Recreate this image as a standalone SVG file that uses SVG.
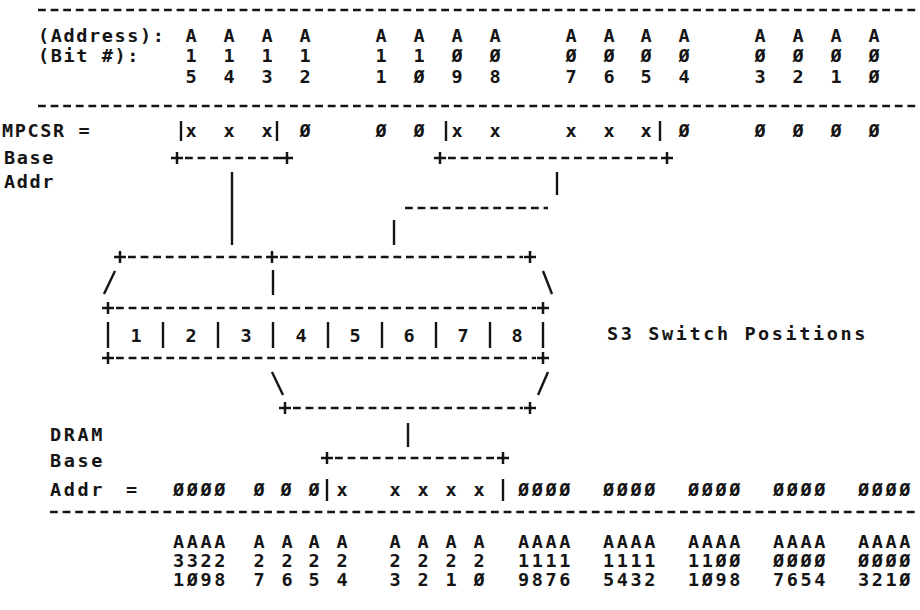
<svg xmlns="http://www.w3.org/2000/svg" xmlns:xlink="http://www.w3.org/1999/xlink" width="920" height="610" viewBox="0 0 920 610">
  <defs>
    <style>
      text { font-family: "DejaVu Sans Mono", "Liberation Mono", monospace; font-weight: bold; font-size: 18.5px; fill: #141414; }
      .lbl { letter-spacing: 1.6px; }
      .wide { letter-spacing: 2.6px; }
      .sw { letter-spacing: 2.6px; }
      .col { text-anchor: middle; }
      .rule, .dash { stroke: #141414; stroke-width: 2.5; fill: none; stroke-dasharray: 7.8 4.8; }
      .bar { stroke: #141414; stroke-width: 2.4; fill: none; }
      .plus { stroke: #141414; stroke-width: 2.5; fill: none; }
    </style>
    <path id="plus" d="M-6 0H6M0 -6V6"/>
  </defs>
  <rect width="920" height="610" fill="#ffffff"/>

  <!-- separator rules -->
  <g id="rules">
    <line class="rule" x1="38" y1="10" x2="918" y2="10"/>
    <line class="rule" x1="38" y1="106" x2="918" y2="106"/>
    <line class="rule" x1="50" y1="512" x2="918" y2="512"/>
  </g>

  <!-- address bit header -->
  <g id="address-header">
    <text class="lbl" x="38" y="42">(Address):</text>
    <text class="lbl" x="38" y="62">(Bit #):</text>
    <text class="col" y="42"><tspan x="191">A</tspan><tspan x="229">A</tspan><tspan x="267">A</tspan><tspan x="305">A</tspan><tspan x="381">A</tspan><tspan x="419">A</tspan><tspan x="457">A</tspan><tspan x="495">A</tspan><tspan x="571">A</tspan><tspan x="609">A</tspan><tspan x="646">A</tspan><tspan x="684">A</tspan><tspan x="760">A</tspan><tspan x="798">A</tspan><tspan x="836">A</tspan><tspan x="874">A</tspan></text>
    <text class="col" y="62"><tspan x="191">1</tspan><tspan x="229">1</tspan><tspan x="267">1</tspan><tspan x="305">1</tspan><tspan x="381">1</tspan><tspan x="419">1</tspan><tspan x="457">Ø</tspan><tspan x="495">Ø</tspan><tspan x="571">Ø</tspan><tspan x="609">Ø</tspan><tspan x="646">Ø</tspan><tspan x="684">Ø</tspan><tspan x="760">Ø</tspan><tspan x="798">Ø</tspan><tspan x="836">Ø</tspan><tspan x="874">Ø</tspan></text>
    <text class="col" y="83"><tspan x="191">5</tspan><tspan x="229">4</tspan><tspan x="267">3</tspan><tspan x="305">2</tspan><tspan x="381">1</tspan><tspan x="419">Ø</tspan><tspan x="457">9</tspan><tspan x="495">8</tspan><tspan x="571">7</tspan><tspan x="609">6</tspan><tspan x="646">5</tspan><tspan x="684">4</tspan><tspan x="760">3</tspan><tspan x="798">2</tspan><tspan x="836">1</tspan><tspan x="874">Ø</tspan></text>
  </g>

  <!-- MPCSR base address register -->
  <g id="mpcsr">
    <text class="lbl" x="2" y="137">MPCSR =</text>
    <text class="lbl" x="4" y="164">Base</text>
    <text class="lbl" x="4" y="188">Addr</text>
    <text class="col" y="137"><tspan x="191">x</tspan><tspan x="229">x</tspan><tspan x="267">x</tspan><tspan x="305">Ø</tspan><tspan x="381">Ø</tspan><tspan x="419">Ø</tspan><tspan x="457">x</tspan><tspan x="495">x</tspan><tspan x="571">x</tspan><tspan x="609">x</tspan><tspan x="646">x</tspan><tspan x="684">Ø</tspan><tspan x="760">Ø</tspan><tspan x="798">Ø</tspan><tspan x="836">Ø</tspan><tspan x="874">Ø</tspan></text>
  </g>

  <!-- S3 switch block -->
  <g id="s3-switch">
    <line class="dash" x1="116" y1="308" x2="536" y2="308"/>
    <line class="dash" x1="116" y1="358" x2="536" y2="358"/>
    <use xlink:href="#plus" class="plus" x="108" y="308"/>
    <use xlink:href="#plus" class="plus" x="543" y="308"/>
    <use xlink:href="#plus" class="plus" x="108" y="358"/>
    <use xlink:href="#plus" class="plus" x="543" y="358"/>
    <path class="bar" d="M108 322V348M163 322V348M218 322V348M273 322V348M328 322V348M382 322V348M436 322V348M490 322V348M543 322V348"/>
    <text class="col" y="342"><tspan x="136">1</tspan><tspan x="191">2</tspan><tspan x="246">3</tspan><tspan x="301">4</tspan><tspan x="355">5</tspan><tspan x="409">6</tspan><tspan x="463">7</tspan><tspan x="517">8</tspan></text>
    <text class="sw" x="607" y="340">S3 Switch Positions</text>
  </g>

  <!-- DRAM base address -->
  <g id="dram">
    <text class="wide" x="50" y="441">DRAM</text>
    <text class="wide" x="50" y="467">Base</text>
    <text class="wide" x="50" y="496">Addr</text>
    <text x="126" y="496">=</text>
    <text class="wide" y="496"><tspan x="173">ØØØØ</tspan><tspan x="518">ØØØØ</tspan><tspan x="603">ØØØØ</tspan><tspan x="688">ØØØØ</tspan><tspan x="773">ØØØØ</tspan><tspan x="858">ØØØØ</tspan></text>
    <text class="col" y="496"><tspan x="259">Ø</tspan><tspan x="286">Ø</tspan><tspan x="314">Ø</tspan><tspan x="342">x</tspan><tspan x="395">x</tspan><tspan x="423">x</tspan><tspan x="451">x</tspan><tspan x="479">x</tspan></text>
    <text class="wide" y="548"><tspan x="173">AAAA</tspan><tspan x="518">AAAA</tspan><tspan x="603">AAAA</tspan><tspan x="688">AAAA</tspan><tspan x="773">AAAA</tspan><tspan x="858">AAAA</tspan></text>
    <text class="col" y="548"><tspan x="259">A</tspan><tspan x="287">A</tspan><tspan x="314">A</tspan><tspan x="342">A</tspan><tspan x="395">A</tspan><tspan x="423">A</tspan><tspan x="451">A</tspan><tspan x="479">A</tspan></text>
    <text class="wide" y="567"><tspan x="173">3322</tspan><tspan x="518">1111</tspan><tspan x="603">1111</tspan><tspan x="688">11ØØ</tspan><tspan x="773">ØØØØ</tspan><tspan x="858">ØØØØ</tspan></text>
    <text class="col" y="567"><tspan x="259">2</tspan><tspan x="287">2</tspan><tspan x="314">2</tspan><tspan x="342">2</tspan><tspan x="395">2</tspan><tspan x="423">2</tspan><tspan x="451">2</tspan><tspan x="479">2</tspan></text>
    <text class="wide" y="586"><tspan x="173">1Ø98</tspan><tspan x="518">9876</tspan><tspan x="603">5432</tspan><tspan x="688">1Ø98</tspan><tspan x="773">7654</tspan><tspan x="858">321Ø</tspan></text>
    <text class="col" y="586"><tspan x="259">7</tspan><tspan x="287">6</tspan><tspan x="314">5</tspan><tspan x="342">4</tspan><tspan x="395">3</tspan><tspan x="423">2</tspan><tspan x="451">1</tspan><tspan x="479">Ø</tspan></text>
  </g>

  <!-- connectors: brackets, routing lines and fan-in/fan-out -->
  <g id="connectors">
    <!-- field brackets in the MPCSR row -->
    <path class="bar" d="M181 121V141M277 121V141M446 121V141M660 121V141"/>
    <!-- bracket under bits 15..13 -->
    <line class="dash" x1="185" y1="158" x2="281" y2="158"/>
    <use xlink:href="#plus" class="plus" x="177" y="158"/>
    <use xlink:href="#plus" class="plus" x="287" y="158"/>
    <line class="bar" x1="232" y1="172" x2="232" y2="245"/>
    <!-- bracket under bits 9..5 -->
    <line class="dash" x1="448" y1="158" x2="661" y2="158"/>
    <use xlink:href="#plus" class="plus" x="440" y="158"/>
    <use xlink:href="#plus" class="plus" x="667" y="158"/>
    <line class="bar" x1="557" y1="172" x2="557" y2="195"/>
    <line class="dash" x1="405" y1="208" x2="548" y2="208"/>
    <line class="bar" x1="394" y1="220" x2="394" y2="245"/>
    <!-- fan-in above the switch -->
    <line class="dash" x1="128" y1="257" x2="265" y2="257"/>
    <line class="dash" x1="280" y1="257" x2="523" y2="257"/>
    <use xlink:href="#plus" class="plus" x="120" y="257"/>
    <use xlink:href="#plus" class="plus" x="272" y="257"/>
    <use xlink:href="#plus" class="plus" x="530" y="257"/>
    <line class="bar" x1="115" y1="271" x2="104" y2="294"/>
    <line class="bar" x1="273" y1="270" x2="273" y2="295"/>
    <line class="bar" x1="543" y1="271" x2="552" y2="294"/>
    <!-- fan-out below the switch -->
    <line class="bar" x1="272" y1="372" x2="283" y2="395"/>
    <line class="bar" x1="548" y1="372" x2="538" y2="395"/>
    <line class="dash" x1="293" y1="408" x2="523" y2="408"/>
    <use xlink:href="#plus" class="plus" x="285" y="408"/>
    <use xlink:href="#plus" class="plus" x="530" y="408"/>
    <line class="bar" x1="408" y1="423" x2="408" y2="447"/>
    <!-- bracket over DRAM bits 24..20 -->
    <line class="dash" x1="335" y1="458" x2="496" y2="458"/>
    <use xlink:href="#plus" class="plus" x="327" y="458"/>
    <use xlink:href="#plus" class="plus" x="503" y="458"/>
    <path class="bar" d="M327 479V501M503 479V501"/>
  </g>
</svg>
